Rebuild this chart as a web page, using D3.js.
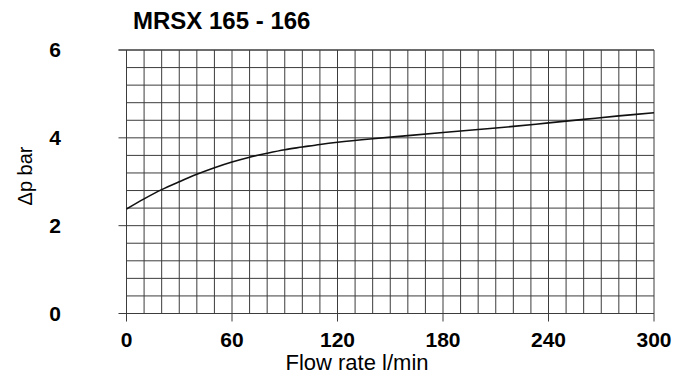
<!DOCTYPE html>
<html>
<head>
<meta charset="utf-8">
<script src="https://cdn.jsdelivr.net/npm/d3@7"></script>
<style>
  body { margin: 0; background: #fff; }
  text { font-family: "Liberation Sans", Arial, sans-serif; }
</style>
</head>
<body>
<svg id="chart" width="686" height="381"></svg>
<script>
// flow rate (l/min) vs pressure drop (bar)
var flow = [0, 10, 20, 30, 40, 50, 60, 70, 80, 90, 100, 110, 120, 140, 160, 180, 200, 220, 240, 260, 280, 300];
var dp   = [2.38, 2.61, 2.82, 3.0, 3.17, 3.32, 3.45, 3.56, 3.65, 3.73, 3.79, 3.85, 3.9, 3.98, 4.05, 4.12, 4.19, 4.26, 4.34, 4.42, 4.5, 4.57];
var xTicks = [0, 60, 120, 180, 240, 300];
var yTicks = [0, 2, 4, 6];
var title = "MRSX 165 - 166";

var svg = d3.select("#chart");
var pLeft = 126.5, pRight = 654, pTop = 50, pBottom = 313.5;

var x = d3.scaleLinear().domain([0, 300]).range([pLeft, pRight]);
var y = d3.scaleLinear().domain([0, 6]).range([pBottom, pTop]);

var grid = svg.append("g").attr("stroke", "#3c3c3c").attr("stroke-width", 1);

// vertical grid every 10 l/min
grid.selectAll(".vx")
  .data(d3.range(0, 301, 10))
  .enter().append("line")
  .attr("x1", function(d) { return x(d); })
  .attr("x2", function(d) { return x(d); })
  .attr("y1", y(6))
  .attr("y2", function(d) { return d % 60 === 0 ? pBottom + 8 : pBottom; });

// horizontal grid every 0.4 bar
grid.selectAll(".hy")
  .data(d3.range(0, 16).map(function(i) { return +(i * 0.4).toFixed(1); }))
  .enter().append("line")
  .attr("y1", function(d) { return y(d); })
  .attr("y2", function(d) { return y(d); })
  .attr("x1", function(d) { return yTicks.indexOf(d) >= 0 ? pLeft - 8 : pLeft; })
  .attr("x2", x(300));
grid.append("line")
  .attr("x1", pLeft - 8).attr("x2", x(300))
  .attr("y1", y(6)).attr("y2", y(6));

var pts = flow.map(function(f, i) { return [f, dp[i]]; });
var line = d3.line()
  .x(function(d) { return x(d[0]); })
  .y(function(d) { return y(d[1]); })
  .curve(d3.curveCatmullRom);

svg.append("path")
  .datum(pts)
  .attr("d", line)
  .attr("fill", "none")
  .attr("stroke", "#111")
  .attr("stroke-width", 1.6);

svg.selectAll(".xl")
  .data(xTicks)
  .enter().append("text")
  .attr("x", function(d) { return x(d); })
  .attr("y", 347)
  .attr("text-anchor", "middle")
  .attr("font-size", 21)
  .attr("font-weight", "bold")
  .text(function(d) { return d; });

svg.selectAll(".yl")
  .data(yTicks)
  .enter().append("text")
  .attr("x", 61)
  .attr("y", function(d) { return y(d) + 7; })
  .attr("text-anchor", "end")
  .attr("font-size", 21)
  .attr("font-weight", "bold")
  .text(function(d) { return d; });

svg.append("text")
  .attr("x", 133)
  .attr("y", 29)
  .attr("font-size", 24)
  .attr("font-weight", "bold")
  .text(title);

svg.append("text")
  .attr("x", 357)
  .attr("y", 370)
  .attr("text-anchor", "middle")
  .attr("font-size", 22)
  .text("Flow rate l/min");

svg.append("text")
  .attr("transform", "translate(32,176) rotate(-90)")
  .attr("text-anchor", "middle")
  .attr("font-size", 20)
  .text("Δp bar");
</script>
</body>
</html>
